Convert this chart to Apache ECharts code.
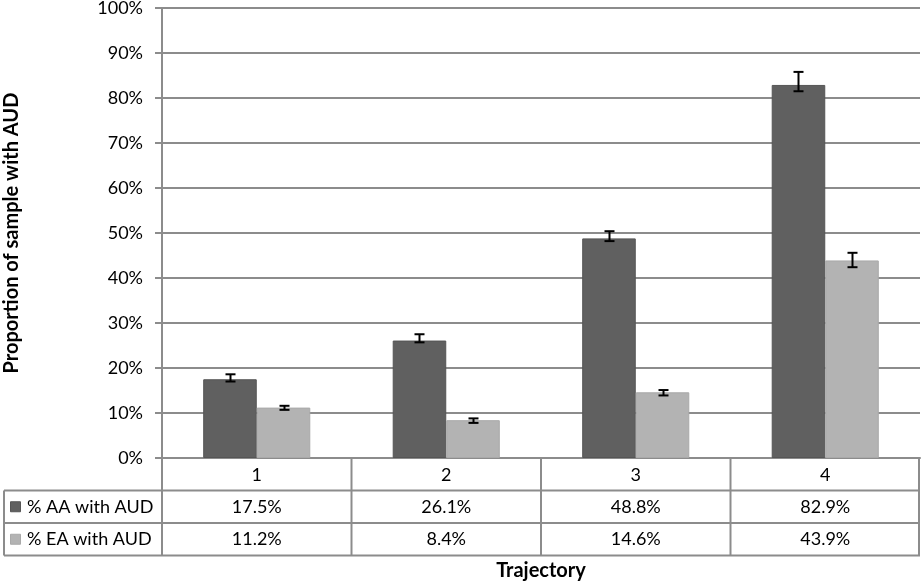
<!DOCTYPE html>
<html><head><meta charset="utf-8">
<script src="https://cdn.jsdelivr.net/npm/echarts@6/dist/echarts.min.js"></script>
<style>html,body{margin:0;padding:0;background:#fff}#c{width:921px;height:582px}</style>
</head><body><div id="c"></div>
<script>
const categories = ['1', '2', '3', '4'];
const seriesNames = ['% AA with AUD', '% EA with AUD'];
const aaValues = [17.5, 26.1, 48.8, 82.9];
const aaLow = [17.0, 25.7, 48.2, 81.5];
const aaHigh = [18.6, 27.5, 50.4, 85.8];
const eaValues = [11.2, 8.4, 14.6, 43.9];
const eaLow = [10.7, 7.8, 13.9, 42.4];
const eaHigh = [11.6, 8.8, 15.1, 45.6];
const tableLabels = ['17.5%', '26.1%', '48.8%', '82.9%'];
const tableLabels2 = ['11.2%', '8.4%', '14.6%', '43.9%'];
const yTicks = [0, 10, 20, 30, 40, 50, 60, 70, 80, 90, 100];

const FONT = 'Lato, "Open Sans", sans-serif';
const colAA = '#606060', colEA = '#b3b3b3';
const gridCol = '#8c8c8c';
const catGap = 0.435;

const chart = echarts.init(document.getElementById('c'), null, {renderer: 'canvas'});

function errSeries(idx, low, high) {
  return {
    type: 'custom',
    z: 10,
    data: categories.map((c, i) => [i, low[i], high[i]]),
    renderItem: function (params, api) {
      const i = api.value(0);
      const cw = api.size([1, 0])[0];
      const bw = cw * (1 - catGap) / 2;
      const off = idx === 0 ? -bw / 2 : bw / 2;
      const pLo = api.coord([i, api.value(1)]);
      const pHi = api.coord([i, api.value(2)]);
      const x = Math.round(pLo[0] + off) + 0.5;
      const cap = 5;
      const st = {stroke: '#000', lineWidth: 2};
      return {type: 'group', children: [
        {type: 'line', shape: {x1: x, y1: pLo[1], x2: x, y2: pHi[1]}, style: st},
        {type: 'line', shape: {x1: x - cap, y1: pLo[1], x2: x + cap, y2: pLo[1]}, style: st},
        {type: 'line', shape: {x1: x - cap, y1: pHi[1], x2: x + cap, y2: pHi[1]}, style: st}
      ]};
    }
  };
}

const option = {
  animation: false,
  textStyle: {fontFamily: FONT},
  grid: {left: 162, right: 1, top: 8, bottom: 124, containLabel: false, outerBoundsMode: 'none'},
  xAxis: {
    type: 'category', data: categories,
    name: 'Trajectory', nameLocation: 'middle', nameGap: 103,
    nameTextStyle: {fontFamily: FONT, fontSize: 20, fontWeight: 'bold', color: '#000'},
    axisLine: {lineStyle: {color: gridCol, width: 2}},
    axisTick: {show: false},
    axisLabel: {fontSize: 18, color: '#000', margin: 8, fontFamily: FONT}
  },
  yAxis: {
    type: 'value', min: 0, max: 100, interval: 10,
    name: 'Proportion of sample with AUD', nameLocation: 'middle', nameGap: 140,
    nameTextStyle: {fontFamily: FONT, fontSize: 20, fontWeight: 'bold', color: '#000'},
    axisLine: {show: true, lineStyle: {color: gridCol, width: 2}},
    axisTick: {show: true, length: 7, lineStyle: {color: gridCol, width: 2}},
    axisLabel: {fontSize: 18, color: '#000', margin: 19, fontFamily: FONT,
      formatter: v => yTicks.indexOf(v) >= 0 ? v + '%' : ''},
    splitLine: {lineStyle: {color: gridCol, width: 2}}
  },
  series: [
    {name: seriesNames[0], type: 'bar', data: aaValues, barGap: '0%', barCategoryGap: (catGap * 100) + '%',
      itemStyle: {color: colAA, borderColor: '#555', borderWidth: 1}},
    {name: seriesNames[1], type: 'bar', data: eaValues, barGap: '0%', barCategoryGap: (catGap * 100) + '%',
      itemStyle: {color: colEA, borderColor: '#a9a9a9', borderWidth: 1}},
    errSeries(0, aaLow, aaHigh),
    errSeries(1, eaLow, eaHigh)
  ]
};
chart.setOption(option);

// Data table below the plot
function buildTable() {
  const x0 = chart.convertToPixel({xAxisIndex: 0}, 0);
  const x1 = chart.convertToPixel({xAxisIndex: 0}, 1);
  const cw = x1 - x0;
  const left = x0 - cw / 2;
  const right = left + cw * categories.length;
  const yBase = chart.convertToPixel({yAxisIndex: 0}, 0);
  const rowH = 32.5;
  const r1 = yBase + rowH, r2 = r1 + rowH, r3 = r2 + rowH;
  const tableLeft = 4;
  const ls = {stroke: gridCol, lineWidth: 2};
  const els = [];
  const L = (a, b, c, d) => els.push({type: 'line', shape: {x1: a, y1: b, x2: c, y2: d}, style: ls, silent: true});
  L(tableLeft, r1, right, r1);
  L(tableLeft, r2, right, r2);
  L(tableLeft, r3, right, r3);
  L(tableLeft, r1, tableLeft, r3);
  for (let i = 0; i <= categories.length; i++) {
    const x = Math.min(left + cw * i, right - 1);
    L(x, yBase, x, r3);
  }
  const rows = [[tableLabels, colAA, '#555', seriesNames[0], r1], [tableLabels2, colEA, '#a9a9a9', seriesNames[1], r2]];
  rows.forEach(([labels, c, bc, nm, top]) => {
    const cy = top + rowH / 2;
    els.push({type: 'rect', shape: {x: 10.5, y: cy - 5, width: 10, height: 10}, style: {fill: c, stroke: bc, lineWidth: 1}});
    els.push({type: 'text', style: {text: nm, x: 27, y: cy, textVerticalAlign: 'middle', textAlign: 'left', font: '18px ' + FONT, fill: '#000'}});
    labels.forEach((t, i) => {
      els.push({type: 'text', style: {text: t, x: left + cw * (i + 0.5), y: cy, textVerticalAlign: 'middle', textAlign: 'center', font: '18px ' + FONT, fill: '#000'}});
    });
  });
  chart.setOption({graphic: {elements: els}});
}
buildTable();
</script>
</body></html>
